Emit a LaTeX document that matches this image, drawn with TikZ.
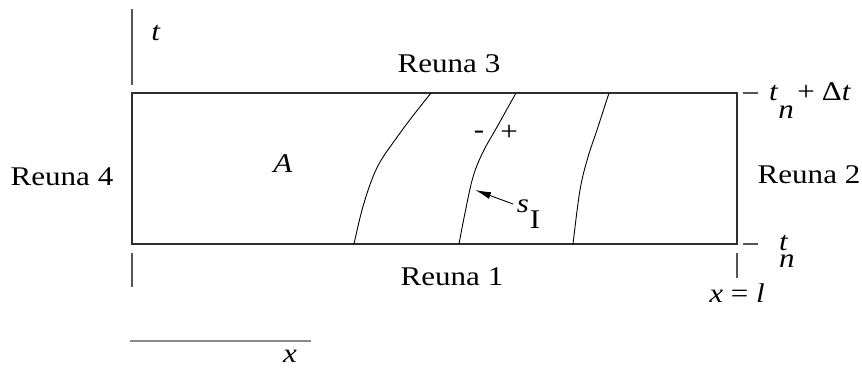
\documentclass[tikz,border=0pt]{standalone}
\usepackage{fontspec}
\setmainfont{Liberation Serif}
\usetikzlibrary{arrows.meta}
\definecolor{boxc}{HTML}{2E2E2E}
\definecolor{tickc}{HTML}{555555}
\definecolor{axisc}{HTML}{8A8A8A}
\newcommand{\stretchtxt}[1]{\scalebox{1.15}[1]{#1}}
\begin{document}
\begin{tikzpicture}[x=1pt,y=-1pt,
  lbl/.style={inner sep=0pt,anchor=base,font=\fontsize{27}{32}\selectfont},
  lblw/.style={lbl,anchor=base west},
  boxline/.style={draw=boxc,line width=2.6pt},
  tickline/.style={draw=tickc,line width=1.1pt},
  axisline/.style={draw=axisc,line width=1.6pt},
  front/.style={draw=black,line width=0.9pt},
  pointer/.style={draw=black,line width=0.9pt,-{Latex[length=16pt,width=7pt]}}]
\useasboundingbox (0,0) rectangle (862,369);
% corners
\coordinate (SW) at (132,244);
\coordinate (NE) at (737,93);
\draw[boxline] (SW) rectangle (NE);
% t axis
\coordinate (ta1) at (132,9);
\coordinate (ta2) at (132,85);
\draw[tickline] (ta1) -- (ta2);
\node[lbl] (tlab) at (156,41) {\stretchtxt{\textit{t}}};
% x axis
\coordinate (xa1) at (130,341);
\coordinate (xa2) at (311,341);
\draw[axisline] (xa1) -- (xa2);
\node[lbl] (xlab) at (290,362) {\stretchtxt{\textit{x}}};
% ticks
\coordinate (bl1) at (132,253);
\coordinate (bl2) at (132,287);
\draw[tickline] (bl1) -- (bl2);
\coordinate (br1) at (737,253);
\coordinate (br2) at (737,278);
\draw[tickline] (br1) -- (br2);
\coordinate (rt1) at (743,93);
\coordinate (rt2) at (758,93);
\draw[tickline] (rt1) -- (rt2);
\coordinate (rb1) at (743,244);
\coordinate (rb2) at (758,244);
\draw[tickline] (rb1) -- (rb2);
% labels
\node[lbl] (r1) at (452,285) {\stretchtxt{Reuna 1}};
\node[lbl] (r2) at (809,183) {\stretchtxt{Reuna 2}};
\node[lbl] (r3) at (449,73) {\stretchtxt{Reuna 3}};
\node[lbl] (r4) at (62,185) {\stretchtxt{Reuna 4}};
\node[lbl] (A) at (283,172) {\stretchtxt{\textit{A}}};
\node[lbl] (xl) at (737,302) {\stretchtxt{\textit{x} = \textit{l}}};
\node[lblw] (tn1) at (769,100) {\stretchtxt{\textit{t}\rlap{\raisebox{-18pt}{\textit{n}}}\hspace{16.5pt}+\hspace{6pt}Δ\textit{t}}};
\node[lblw] (tn0) at (779,250) {\stretchtxt{\rlap{\textit{t}}\raisebox{-17pt}{\textit{n}}}};
% fronts
\draw[front] plot[smooth,tension=0.6] coordinates {(354,244) (362,210) (371,182) (380,162) (395,140) (412,117) (431,93)};
\draw[front] plot[smooth,tension=0.6] coordinates {(459,244) (465,213) (473,177) (483,152) (497,127) (516,93)};
\draw[front] plot[smooth,tension=0.6] coordinates {(573,244) (580,190) (588,157) (597,130) (609,93)};
\node[lbl] (minus) at (479,138) {\stretchtxt{-}};
\node[lbl] (plus) at (509,140) {\stretchtxt{+}};
% s_I
\node[lbl] (s) at (523,212) {\stretchtxt{\textit{s}}};
\node[lbl] (I) at (535,228) {\stretchtxt{I}};
\coordinate (arrtail) at (513,204);
\coordinate (arrtip) at (475,190);
\draw[pointer] (arrtail) -- (arrtip);
\end{tikzpicture}
\end{document}
